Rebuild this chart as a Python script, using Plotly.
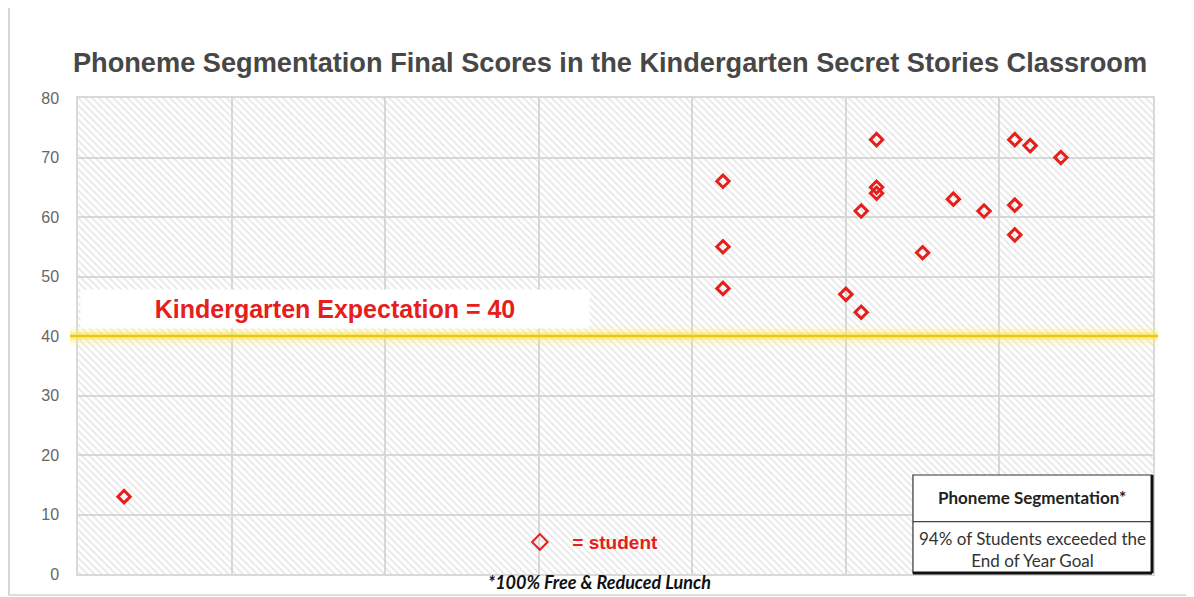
import plotly.graph_objects as go

# ---- data ----
student_x = [1.5, 21, 21, 21, 25, 25.5, 25.5, 26, 26, 26, 27.5, 28.5, 29.5, 30.5, 30.5, 30.5, 31, 32]
student_scores = [13, 66, 55, 48, 47, 61, 44, 73, 65, 64, 54, 63, 61, 73, 62, 57, 72, 70]
expectation = 40
x_range = [0, 35]
y_range = [0, 80]
y_ticks = [0, 10, 20, 30, 40, 50, 60, 70, 80]

title_text = "Phoneme Segmentation Final Scores in the Kindergarten Secret Stories Classroom"
expect_label = "Kindergarten Expectation = 40"
legend_label = "= student"
table_header = "Phoneme Segmentation*"
table_body = "94% of Students exceeded the<br>End of Year Goal"
footnote = "*100% Free &amp; Reduced Lunch"

RED = "#e5201c"
GRID = "#d9d9d9"

fig = go.Figure()

# hatched plot background (bar spanning the whole axis range)
fig.add_trace(go.Bar(
    x=[(x_range[0] + x_range[1]) / 2], y=[y_range[1]], width=[x_range[1] - x_range[0]],
    marker=dict(color="rgba(0,0,0,0)", line=dict(width=0),
                pattern=dict(shape="\\", fgcolor="#cccccc", size=5, solidity=0.3, fillmode="overlay")),
    hoverinfo="skip", showlegend=False,
))

fig.add_trace(go.Scatter(
    x=student_x, y=student_scores, mode="markers", name=f"<b>{legend_label}</b>",
    marker=dict(symbol="diamond-open", size=9.5, color=RED, line=dict(width=3, color=RED)),
    showlegend=True,
))

# glow line at the expectation
for w, op, col in [(22, 0.10, "#fff27a"), (14, 0.22, "#fff06a"), (8, 0.45, "#ffe84a"), (2.4, 1.0, "#e8c61c")]:
    fig.add_shape(type="line", xref="paper", yref="y", x0=-0.0074, x1=1.0047,
                  y0=expectation, y1=expectation, line=dict(color=col, width=w), opacity=op, layer="above")

# card border
fig.add_shape(type="rect", xref="paper", yref="paper", x0=-0.0642, x1=1.0326, y0=-0.0441, y1=1.191,
              line=dict(color="#bdbdbd", width=1.2), fillcolor="rgba(0,0,0,0)", layer="below")

# expectation label box
fig.add_annotation(xref="paper", yref="y", x=0.239, y=44.6, xanchor="center", yanchor="middle",
                   text=f"<b>{expect_label}</b>",
                   showarrow=False, bgcolor="white", width=506, height=36,
                   font=dict(family="Liberation Sans, Arial", size=25, color=RED))

# table box
tx0, tx1, ty0, ty1, tmid = 0.7767, 0.9991, 0.0021, 0.208, 0.1099
fig.add_shape(type="rect", xref="paper", yref="paper", x0=tx0, x1=tx1, y0=ty0, y1=ty1,
              line=dict(color="#333333", width=1.2), fillcolor="white", layer="above")
fig.add_shape(type="line", xref="paper", yref="paper", x0=tx0, x1=tx1, y0=tmid, y1=tmid,
              line=dict(color="#444444", width=1.2), layer="above")
fig.add_shape(type="line", xref="paper", yref="paper", x0=tx1, x1=tx1, y0=ty0, y1=ty1,
              line=dict(color="#111111", width=3), layer="above")
fig.add_shape(type="line", xref="paper", yref="paper", x0=tx0, x1=tx1, y0=ty0, y1=ty0,
              line=dict(color="#111111", width=3), layer="above")
fig.add_annotation(xref="paper", yref="paper", x=(tx0 + tx1) / 2, y=0.1597, xanchor="center", yanchor="middle",
                   text=f"<b>{table_header}</b>",
                   showarrow=False, font=dict(family="Lato", size=17, color="#222222"))
fig.add_annotation(xref="paper", yref="paper", x=(tx0 + tx1) / 2, y=0.0525, xanchor="center", yanchor="middle",
                   text=table_body,
                   showarrow=False, font=dict(family="Lato", size=17, color="#333333"))

# footnote
fig.add_annotation(xref="paper", yref="paper", x=0.4847, y=-0.0168, xanchor="center", yanchor="middle",
                   text=f"<b><i>{footnote}</i></b>",
                   showarrow=False, font=dict(family="Lato", size=18, color="#111111"))

fig.update_layout(
    width=1186, height=589,
    margin=dict(l=70, r=41, t=90, b=23),
    paper_bgcolor="white", plot_bgcolor="white",
    title=dict(text=f"<b>{title_text}</b>", x=0.5076, xanchor="center", y=0.9083, yanchor="middle",
               font=dict(family="Liberation Sans, Arial", size=27.2, color="#474747")),
    showlegend=True,
    legend=dict(x=0.3994, y=0.067, xanchor="left", yanchor="middle", bgcolor="rgba(0,0,0,0)",
                itemsizing="constant", itemwidth=55,
                font=dict(family="Liberation Sans, Arial", size=19, color=RED)),
    xaxis=dict(range=x_range, dtick=5, showticklabels=False, showgrid=True, gridcolor=GRID, gridwidth=1.5,
               zeroline=False, showline=True, linecolor=GRID, linewidth=1.5, mirror=True, fixedrange=True),
    yaxis=dict(range=y_range, tickvals=y_ticks, showgrid=True, gridcolor=GRID, gridwidth=1.5,
               zeroline=False, showline=True, linecolor=GRID, linewidth=1.5, mirror=True,
               ticklabelstandoff=14,
               tickfont=dict(family="Liberation Sans, Arial", size=16, color="#666666")),
    bargap=0,
)

fig.write_html("out.html")
